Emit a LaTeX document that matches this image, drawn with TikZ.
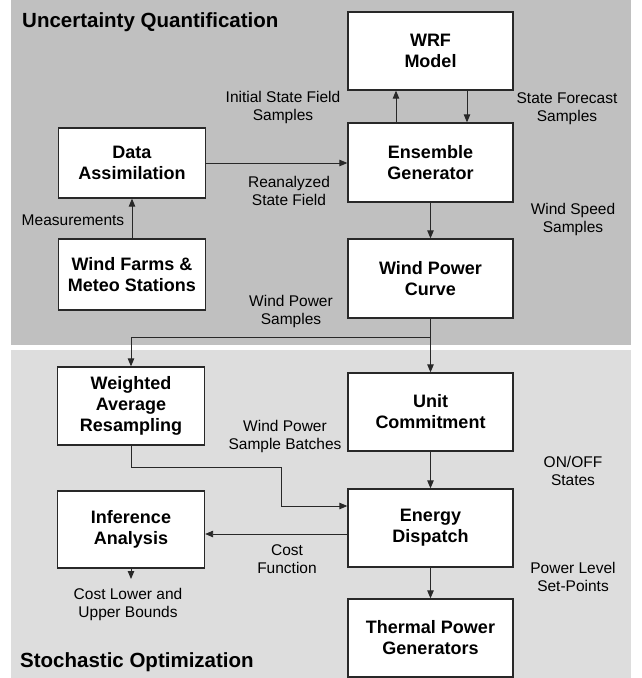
\documentclass[tikz,border=0pt]{standalone}
\usepackage{fontspec}
\setmainfont{Liberation Sans}
\usetikzlibrary{arrows.meta}
\definecolor{topgray}{RGB}{192,192,192}
\definecolor{botgray}{RGB}{221,221,221}
\definecolor{linec}{RGB}{40,40,40}
\tikzset{
  rbox/.style={draw=linec, line width=1.3pt, fill=white, minimum width=165pt, align=center,
    font=\fontsize{18}{21}\selectfont\bfseries, inner sep=0pt},
  lbox/.style={rbox, minimum width=147pt},
  lbl/.style={align=center, font=\fontsize{15.5}{18}\selectfont, inner sep=0pt},
  ttl/.style={anchor=base west, font=\fontsize{20.5}{24}\selectfont\bfseries, inner sep=0pt},
  arr/.style={draw=linec, line width=0.9pt, -{Triangle[length=8pt,width=6.5pt]}},
  ln/.style={draw=linec, line width=0.9pt}
}
\begin{document}
\begin{tikzpicture}[x=1pt,y=-1pt]
\useasboundingbox (0,0) rectangle (641,678);
\fill[topgray] (11,0) rectangle (631,345);
\fill[botgray] (11,350) rectangle (631,678);
\node[ttl] (t1) at (22,27.5) {Uncertainty Quantification};
\node[ttl] (t2) at (20,667) {Stochastic Optimization};
% right column
\node[rbox, minimum height=78pt] (wrf) at (430.5,51) {WRF\\Model};
\node[rbox, minimum height=79pt] (ens) at (430.5,162.5) {Ensemble\\Generator};
\node[rbox, minimum height=79pt] (wpc) at (430.5,278.5) {Wind Power\\Curve};
\node[rbox, minimum height=78pt] (uc) at (430.5,412) {Unit\\Commitment};
\node[rbox, minimum height=78pt] (ed) at (430.5,528) {Energy\\Dispatch};
\node[rbox, minimum height=78pt] (tpg) at (430.5,638) {Thermal Power\\Generators};
% left column
\node[lbox, minimum height=70pt] (da) at (132,163) {Data\\Assimilation};
\node[lbox, minimum height=71pt] (wf) at (132,274.5) {Wind Farms \&\\Meteo Stations};
\node[lbox, minimum height=78pt] (war) at (131,406) {Weighted\\Average\\Resampling};
\node[lbox, minimum height=77pt] (ia) at (131,529.5) {Inference\\Analysis};
% labels
\node[lbl] (l1) at (283,107) {Initial State Field\\Samples};
\node[lbl] (l2) at (567,109) {State Forecast\\Samples};
\node[lbl] (l3) at (289,191) {Reanalyzed\\State Field};
\node[lbl] (l4) at (73,220) {Measurements};
\node[lbl] (l5) at (573,219.5) {Wind Speed\\Samples};
\node[lbl] (l6) at (291,311.5) {Wind Power\\Samples};
\node[lbl] (l7) at (285,436) {Wind Power\\Sample Batches};
\node[lbl] (l8) at (573,471) {ON/OFF\\States};
\node[lbl] (l9) at (287,559) {Cost\\Function};
\node[lbl] (l10) at (573,577) {Power Level\\Set-Points};
\node[lbl] (l11) at (128,604) {Cost Lower and\\Upper Bounds};
% connectors
\draw[arr] ([xshift=-34.5pt]ens.north) -- ([xshift=-34.5pt]wrf.south);
\draw[arr] ([xshift=36.5pt]wrf.south) -- ([xshift=36.5pt]ens.north);
\draw[arr] (da.east) -- (da.east -| ens.west);
\draw[arr] (wf.north) -- (da.south);
\draw[arr] (ens.south) -- (wpc.north);
\coordinate (split) at (430.5,337);
\draw[ln] (wpc.south) -- (split);
\draw[arr] (split) -- (uc.north);
\draw[arr] (split) -| (war.north);
\draw[arr] (uc.south) -- (ed.north);
\coordinate (c1) at (281,467);
\draw[arr] (war.south) |- (c1) |- ([yshift=22pt]ed.west);
\draw[arr] ([yshift=-6pt]ed.west) -- ([yshift=-6pt]ed.west -| ia.east);
\coordinate (iaout) at (131,579);
\draw[arr] (ia.south) -- (iaout);
\draw[arr] (ed.south) -- (tpg.north);
\end{tikzpicture}
\end{document}
